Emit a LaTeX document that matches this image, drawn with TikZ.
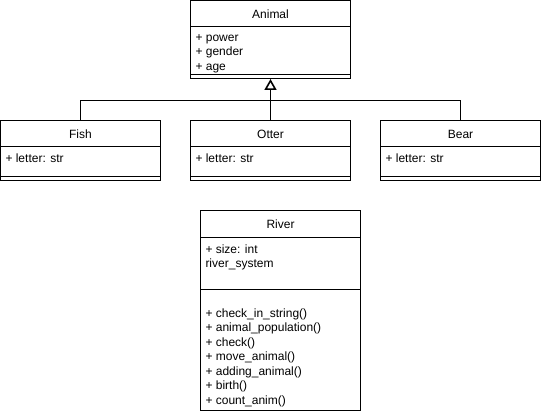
\documentclass[tikz,border=0pt]{standalone}
\usepackage{fontspec}
\setmainfont{Liberation Sans}
\usetikzlibrary{arrows.meta}
\begin{document}
\begin{tikzpicture}[x=1pt,y=-1pt,line width=1pt,
  box/.style={draw,fill=white},
  title/.style={font=\fontsize{12}{14}\selectfont,anchor=center,inner sep=0pt},
  attr/.style={font=\fontsize{12}{14.5}\selectfont,anchor=north west,align=left,inner sep=0pt},
  inherit/.style={-{Triangle[open,length=11pt,width=12pt,line width=1.6pt]}}]
\useasboundingbox (0,0) rectangle (541,414);
% Animal
\draw[box] (190.5,0.5) rectangle (350.5,78.5);
\draw (190.5,26.5) -- (350.5,26.5);
\draw (190.5,74.5) -- (350.5,74.5);
\node[title] (animal) at (270.5,14) {Animal};
\node[attr] (animalattr) at (195,34) {+ power\\+ gender\\+ age};
\coordinate (animalb) at (270.5,79);
% Fish
\draw[box] (0.5,120.5) rectangle (160.5,180.5);
\draw (0.5,146.5) -- (160.5,146.5);
\draw (0.5,176.5) -- (160.5,176.5);
\node[title] (fish) at (80.5,134) {Fish};
\node[attr] (fishattr) at (5,153.5) {+ letter: str};
\coordinate (fisht) at (80.5,120.5);
% Otter
\draw[box] (190.5,120.5) rectangle (350.5,180.5);
\draw (190.5,146.5) -- (350.5,146.5);
\draw (190.5,176.5) -- (350.5,176.5);
\node[title] (otter) at (270.5,134) {Otter};
\node[attr] (otterattr) at (195,153.5) {+ letter: str};
\coordinate (ottert) at (270.5,120.5);
% Bear
\draw[box] (380.5,120.5) rectangle (540.5,180.5);
\draw (380.5,146.5) -- (540.5,146.5);
\draw (380.5,176.5) -- (540.5,176.5);
\node[title] (bear) at (460.5,134) {Bear};
\node[attr] (bearattr) at (385,153.5) {+ letter: str};
\coordinate (beart) at (460.5,120.5);
% inheritance
\coordinate (junc) at (270.5,100.5);
\draw (fisht) |- (junc);
\draw (beart) |- (junc);
\draw[inherit] (ottert) -- (animalb);
% River
\draw[box] (200.5,210.5) rectangle (360.5,410.5);
\draw (200.5,237.5) -- (360.5,237.5);
\draw (200.5,289.5) -- (360.5,289.5);
\node[title] (river) at (280.5,224) {River};
\node[attr] (riverattr) at (205,244) {+ size: int\\river\_system};
\node[attr] (rivermeth) at (205,308) {+ check\_in\_string()\\+ animal\_population()\\+ check()\\+ move\_animal()\\+ adding\_animal()\\+ birth()\\+ count\_anim()};
\end{tikzpicture}
\end{document}
